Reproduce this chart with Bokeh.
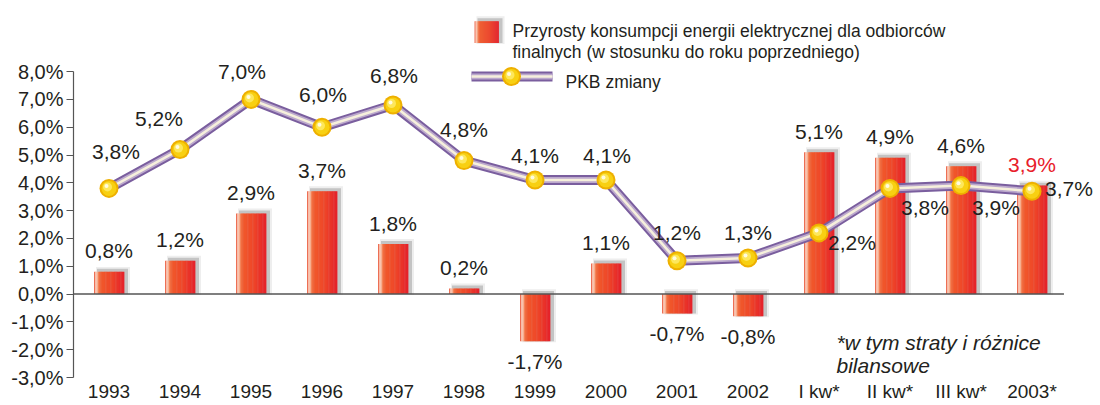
from bokeh.plotting import figure
from bokeh.models import Range1d, FixedTicker, ColumnDataSource
from bokeh.core.properties import value
from bokeh.embed import file_html
from bokeh.resources import INLINE

# ---------------- data ----------------
categories = ["1993", "1994", "1995", "1996", "1997", "1998", "1999", "2000",
              "2001", "2002", "I kw*", "II kw*", "III kw*", "2003*"]
consumption = [0.8, 1.2, 2.9, 3.7, 1.8, 0.2, -1.7, 1.1, -0.7, -0.8, 5.1, 4.9, 4.6, 3.9]
gdp = [3.8, 5.2, 7.0, 6.0, 6.8, 4.8, 4.1, 4.1, 1.2, 1.3, 2.2, 3.8, 3.9, 3.7]
y_ticks = [-3.0, -2.0, -1.0, 0.0, 1.0, 2.0, 3.0, 4.0, 5.0, 6.0, 7.0, 8.0]
legend_bar_lines = ["Przyrosty konsumpcji energii elektrycznej dla odbiorców",
                    "finalnych (w stosunku do roku poprzedniego)"]
legend_line_label = "PKB zmiany"
note_lines = ["*w tym straty i różnice", "bilansowe"]
highlight_category = "2003*"

# ---------------- geometry helpers ----------------
FIG_W, FIG_H = 1096, 404
BORDER_L, BORDER_B = 73, 22
FRAME_LEFT, FRAME_TOP = 74, 0
FRAME_W, FRAME_H = FIG_W - BORDER_L, 382
UNIT_X, UNIT_Y = 71.0, 28.18
X0 = -0.5
X1 = X0 + FRAME_W / UNIT_X
Y0 = -3.0
Y1 = Y0 + FRAME_H / UNIT_Y
PX = 1.0 / UNIT_X
PY = 1.0 / UNIT_Y


def dx(px):
    return px * PX


def dy(py):
    return py * PY


def page_x(px):
    return X0 + (px - FRAME_LEFT) * PX


def page_y(py):
    return Y1 - (py - FRAME_TOP) * PY


def fmt(v):
    return ("%.1f" % v).replace(".", ",") + "%"


stops = [(0.00, "#e6402a"), (0.04, "#f39a7a"), (0.08, "#fde9de"), (0.13, "#f58c62"),
         (0.22, "#f15a2b"), (0.60, "#ee4428"), (1.00, "#e4202a")]


def hex2rgb(h):
    h = h.lstrip("#")
    return tuple(int(h[i:i + 2], 16) for i in (0, 2, 4))


def grad(u):
    for (u0, c0), (u1, c1) in zip(stops[:-1], stops[1:]):
        if u0 <= u <= u1:
            t = (u - u0) / (u1 - u0)
            a, b = hex2rgb(c0), hex2rgb(c1)
            return "#%02x%02x%02x" % tuple(int(round(a[k] + (b[k] - a[k]) * t)) for k in range(3))
    return stops[-1][1]


TEXT = "#231f20"
FONT = value("Liberation Sans")

p = figure(width=FIG_W, height=FIG_H, output_backend="svg", toolbar_location=None,
           x_range=Range1d(X0, X1), y_range=Range1d(Y0, Y1),
           min_border_left=BORDER_L, min_border_right=0, min_border_top=0,
           min_border_bottom=BORDER_B)
p.outline_line_color = None
p.xgrid.grid_line_color = None
p.ygrid.grid_line_color = None
p.background_fill_color = "white"


def gradient_box(left, right, bottom, top, n=24):
    L, R, B, T, C = [], [], [], [], []
    for (l, r, b, t) in zip(left, right, bottom, top):
        w = (r - l) / n
        for k in range(n):
            L.append(l + k * w)
            R.append(l + (k + 1) * w + dx(0.4))
            B.append(b)
            T.append(t)
            C.append(grad((k + 0.5) / n))
    p.quad(left=L, right=R, bottom=B, top=T, fill_color=C, line_color=None)


def shadow_box(left, right, bottom, top):
    p.quad(left=[l + dx(2) for l in left], right=[r + dx(6) for r in right],
           bottom=[b - dy(1) for b in bottom], top=[t + dy(5) for t in top],
           fill_color="#a0a0a0", fill_alpha=0.18, line_color=None)
    p.quad(left=[l + dx(3) for l in left], right=[r + dx(4) for r in right],
           bottom=bottom, top=[t + dy(3) for t in top],
           fill_color="#909090", fill_alpha=0.45, line_color=None)


# ---------------- bars ----------------
xs = list(range(len(categories)))
BW = dx(30)
b_left = [x - BW / 2 for x in xs]
b_right = [x + BW / 2 for x in xs]
b_top = [max(v, 0) for v in consumption]
b_bot = [min(v, 0) for v in consumption]
shadow_box(b_left, b_right, b_bot, b_top)
gradient_box(b_left, b_right, b_bot, b_top)

# zero line
p.line([X0, 13.45], [0, 0], line_color="#555555", line_width=1.5)

# ---------------- GDP line ----------------
LINE_STYLES = [(10, "#7a5e9e"), (6, "#bca9cd"), (2.5, "#f6f0dc")]
for w, c in LINE_STYLES:
    p.line(xs, gdp, line_width=w, line_color=c, line_join="round")


def markers(mx, my):
    p.scatter(mx, my, size=19, fill_color="#eeb000", line_color=None)
    p.scatter(mx, my, size=15, fill_color="#f8d012", line_color=None)
    p.scatter([x - dx(1.5) for x in mx], [y + dy(1.5) for y in my], size=9,
              fill_color="#fde75c", line_color=None)
    p.scatter([x - dx(2.5) for x in mx], [y + dy(2.5) for y in my], size=4,
              fill_color="#fffbe0", line_color=None)


markers(xs, gdp)

# ---------------- labels ----------------
bar_src = ColumnDataSource(dict(
    x=xs, y=consumption, text=[fmt(v) for v in consumption],
    yo=[-21 if v >= 0 else 20 for v in consumption],
    color=["#e8202a" if c == highlight_category else TEXT for c in categories]))
p.text(x="x", y="y", text="text", y_offset="yo", text_color="color", source=bar_src,
       text_align="center", text_baseline="middle", text_font=FONT, text_font_size="21px")

gdp_xo = [7, -21, -9, 1, 1, 0, 0, 1, 0, 0, 33, 35, 35, 37]
gdp_yo = [-37, -31, -28, -33, -29, -31, -25, -25, -28, -25, 10, 19, 22, -3]
gdp_src = ColumnDataSource(dict(x=xs, y=gdp, text=[fmt(v) for v in gdp], xo=gdp_xo, yo=gdp_yo))
p.text(x="x", y="y", text="text", x_offset="xo", y_offset="yo", source=gdp_src,
       text_color=TEXT, text_align="center", text_baseline="middle",
       text_font=FONT, text_font_size="21px")

# ---------------- legend ----------------
lx0, lx1, ly0, ly1 = page_x(475), page_x(499), page_y(43), page_y(21)
shadow_box([lx0], [lx1], [ly0], [ly1])
gradient_box([lx0], [lx1], [ly0], [ly1])
p.text(x=[page_x(513)] * 2, y=[page_y(31), page_y(52)], text=legend_bar_lines,
       text_color=TEXT, text_align="left", text_baseline="alphabetic",
       text_font=FONT, text_font_size="17.5px")

lly = page_y(77)
for w, c in LINE_STYLES:
    p.line([page_x(472), page_x(553)], [lly, lly], line_width=w, line_color=c)
markers([page_x(512)], [lly])
p.text(x=[page_x(566)], y=[page_y(83)], text=[legend_line_label],
       text_color=TEXT, text_align="left", text_baseline="alphabetic",
       text_font=FONT, text_font_size="17.5px")

# note
p.text(x=[page_x(837)] * 2, y=[page_y(347), page_y(370)], text=note_lines,
       text_color=TEXT, text_align="left", text_baseline="alphabetic",
       text_font=FONT, text_font_size="21px", text_font_style="italic")

# ---------------- axes ----------------
p.xaxis.ticker = FixedTicker(ticks=xs)
p.xaxis.major_label_overrides = {i: c for i, c in zip(xs, categories)}
p.xaxis.axis_line_color = None
p.xaxis.major_tick_line_color = None
p.xaxis.major_tick_out = 0
p.xaxis.major_tick_in = 0
p.xaxis.minor_tick_line_color = None
p.xaxis.major_label_standoff = 3
p.xaxis.major_label_text_font = "Liberation Sans"
p.xaxis.major_label_text_font_size = "19px"
p.xaxis.major_label_text_color = TEXT

p.yaxis.ticker = FixedTicker(ticks=y_ticks)
p.yaxis.major_label_overrides = {t: fmt(t) for t in y_ticks}
p.yaxis.bounds = (y_ticks[0], y_ticks[-1])
p.yaxis.axis_line_color = "#555555"
p.yaxis.axis_line_width = 1.2
p.yaxis.major_tick_line_color = "#555555"
p.yaxis.major_tick_in = 0
p.yaxis.major_tick_out = 7
p.yaxis.minor_tick_line_color = None
p.yaxis.major_label_standoff = 3
p.yaxis.major_label_text_font = "Liberation Sans"
p.yaxis.major_label_text_font_size = "20px"
p.yaxis.major_label_text_color = TEXT

open("out.html", "w").write(file_html(p, INLINE))
